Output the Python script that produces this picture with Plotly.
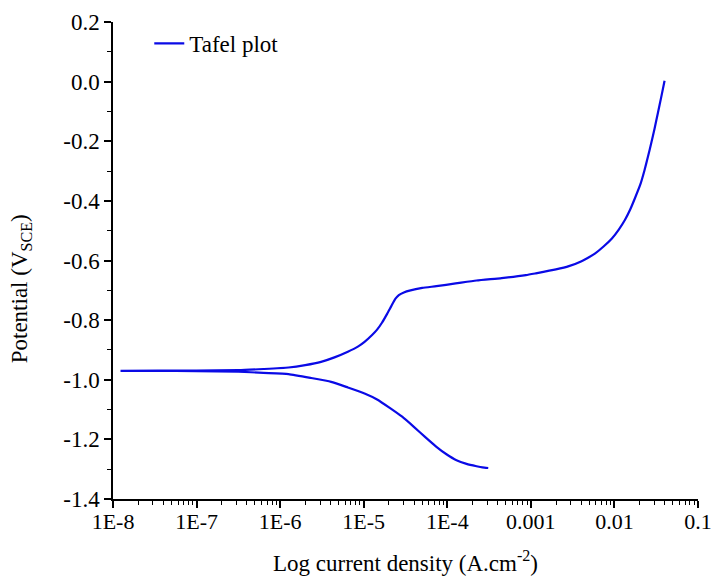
import plotly.graph_objects as go

# Log10 of current density (A/cm^2) and potential (V vs SCE)
cathodic_log_i = [-3.51, -3.58, -3.65, -3.77, -3.89, -4.01, -4.13, -4.27, -4.40, -4.54,
                  -4.68, -4.84, -4.99, -5.19, -5.39, -5.63, -5.90, -6.20, -6.50, -7.00,
                  -7.50, -7.91]
cathodic_E = [-1.296, -1.294, -1.290, -1.282, -1.270, -1.250, -1.225, -1.191, -1.158, -1.124,
              -1.096, -1.066, -1.046, -1.026, -1.007, -0.994, -0.981, -0.977, -0.973, -0.971,
              -0.970, -0.970]

anodic_log_i = [-7.91, -7.00, -6.50, -6.20, -5.90, -5.70, -5.51, -5.35, -5.19, -5.07,
                -4.99, -4.90, -4.84, -4.78, -4.72, -4.67, -4.62, -4.58, -4.52, -4.44,
                -4.30, -4.13, -3.90, -3.65, -3.35, -3.06, -2.94, -2.70, -2.545, -2.40,
                -2.30, -2.23, -2.13, -2.03, -1.95, -1.875, -1.81, -1.756, -1.69, -1.64,
                -1.60, -1.56, -1.52, -1.48, -1.44, -1.40]
anodic_E = [-0.970, -0.969, -0.968, -0.964, -0.959, -0.951, -0.940, -0.925, -0.906, -0.889,
            -0.873, -0.850, -0.832, -0.808, -0.779, -0.753, -0.728, -0.716, -0.707, -0.700,
            -0.692, -0.686, -0.677, -0.667, -0.659, -0.649, -0.643, -0.630, -0.619, -0.603,
            -0.588, -0.576, -0.553, -0.526, -0.497, -0.464, -0.428, -0.392, -0.345, -0.297,
            -0.253, -0.207, -0.158, -0.105, -0.052, 0.003]

x_tick_vals = [1e-8, 1e-7, 1e-6, 1e-5, 1e-4, 1e-3, 1e-2, 1e-1]
x_tick_text = ["1E-8", "1E-7", "1E-6", "1E-5", "1E-4", "0.001", "0.01", "0.1"]
y_tick_vals = [-1.4, -1.2, -1.0, -0.8, -0.6, -0.4, -0.2, 0.0, 0.2]
y_tick_text = ["-1.4", "-1.2", "-1.0", "-0.8", "-0.6", "-0.4", "-0.2", "0.0", "0.2"]

log_i = cathodic_log_i + anodic_log_i
E = cathodic_E + anodic_E
current = [10 ** v for v in log_i]

FONT = "Liberation Serif, Times New Roman, serif"
FS = 23
TFS = 22

fig = go.Figure()
fig.add_trace(go.Scatter(
    x=current, y=E, mode="lines", name="Tafel plot",
    line=dict(color="#0a0ae6", width=2.2, shape="spline", smoothing=0.5),
))

# page body has an 8 px margin, so the figure is drawn at (8, 8)
fig.update_layout(
    width=704, height=568,
    margin=dict(l=105, r=14, t=14, b=77, autoexpand=False),
    paper_bgcolor="white", plot_bgcolor="white",
    font=dict(family=FONT, size=FS, color="black"),
    showlegend=True,
    legend=dict(x=0.062, y=1.0, xanchor="left", yanchor="top",
                bgcolor="rgba(0,0,0,0)", font=dict(size=FS, family=FONT)),
    xaxis=dict(
        type="log", range=[-8, -1], automargin=False,
        tickmode="array", tickvals=x_tick_vals, ticktext=x_tick_text,
        ticks="outside", ticklen=7, tickwidth=1.5, tickcolor="black",
        ticklabelstandoff=-5, ticklabeloverflow="allow",
        showline=True, linecolor="black", linewidth=1.5,
        showgrid=False, zeroline=False,
        minor=dict(ticks="outside", ticklen=4, tickwidth=1, tickcolor="black",
                   dtick="D1", showgrid=False),
        title=dict(text="Log current density (A.cm<sup>-2</sup>)", standoff=22,
                   font=dict(size=FS, family=FONT)),
        tickfont=dict(size=TFS, family=FONT),
    ),
    yaxis=dict(
        range=[-1.4, 0.2], automargin=False,
        tickmode="array", tickvals=y_tick_vals, ticktext=y_tick_text,
        ticks="outside", ticklen=7, tickwidth=1.5, tickcolor="black",
        showline=True, linecolor="black", linewidth=1.5,
        showgrid=False, zeroline=False,
        minor=dict(ticks="outside", ticklen=4, tickwidth=1, tickcolor="black",
                   dtick=0.1, showgrid=False),
        tickfont=dict(size=FS, family=FONT),
    ),
    annotations=[dict(
        text="Potential (V<sub>SCE</sub>)", textangle=-90,
        xref="paper", yref="paper", x=-0.157, y=0.44,
        xanchor="center", yanchor="middle", showarrow=False,
        font=dict(size=FS, family=FONT),
    )],
)

fig.write_html("out.html")
